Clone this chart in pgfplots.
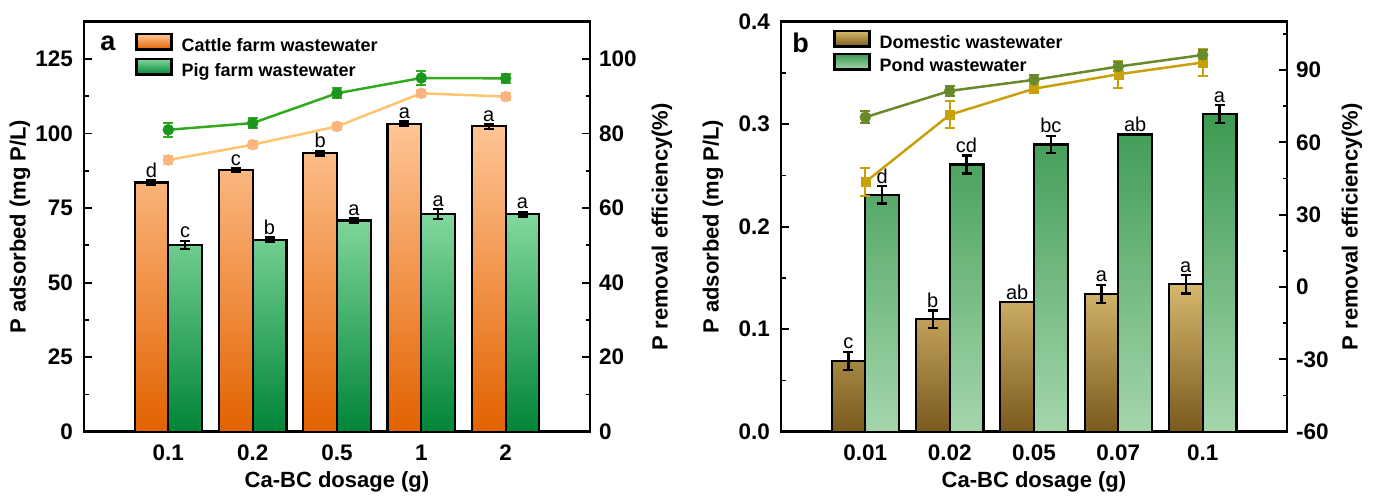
\documentclass[border=0pt]{standalone}
\usepackage{pgfplots}
\pgfplotsset{compat=1.18}
\usepackage{pgfplotstable}
\usepackage{fontspec}
\setmainfont{Liberation Sans}

\definecolor{cattleT}{RGB}{255,198,150}
\definecolor{cattleB}{RGB}{226,98,0}
\definecolor{pigT}{RGB}{130,216,158}
\definecolor{pigB}{RGB}{0,133,55}
\definecolor{domT}{RGB}{214,183,108}
\definecolor{domB}{RGB}{122,90,30}
\definecolor{pondT}{RGB}{60,154,82}
\definecolor{pondB}{RGB}{165,214,172}
\definecolor{orLine}{RGB}{255,196,110}
\definecolor{orMark}{RGB}{250,180,125}
\definecolor{grLine}{RGB}{50,170,30}
\definecolor{grMark}{RGB}{30,150,30}
\definecolor{goldLine}{RGB}{200,160,10}
\definecolor{oliveLine}{RGB}{105,138,40}

\pgfplotstableread{
x c ce p pe cr cre pr pre cl pl
0 83.6 0.8 62.7 1.3 72.9 1.0 81.0 1.9 d c
1 87.7 0.7 64.3 0.8 77.0 1.0 82.8 1.4 c b
2 93.4 0.8 70.8 0.8 81.9 1.0 90.8 1.4 b a
3 103.2 0.8 73.0 1.6 90.8 1.0 94.9 2.0 a a
4 102.4 0.8 73.0 0.8 89.9 1.0 94.8 1.3 a a
}\dataA

\pgfplotstableread{
x d de q qe dr dre qr qre dl ql
0 0.0691 0.009 0.2311 0.0085 43.5 5.8 70.4 2.4 c d
1 0.1097 0.0086 0.2607 0.0088 71.4 5.6 81.3 2.0 b cd
2 0.1266 0 0.2801 0.0085 82.2 1.7 85.9 2.0 ab bc
3 0.1347 0.0088 0.2899 0 88.2 5.5 91.4 2.0 a ab
4 0.1438 0.009 0.3100 0.0085 93.1 5.6 96.2 2.0 a a
}\dataB

\newcommand{\labfont}{\fontsize{22}{24}\selectfont\bfseries}

\pgfplotsset{
  base/.style={
    scale only axis, width=506pt, height=410pt,
    xmin=-1, xmax=5, xtick={0,1,2,3,4},
    xtick pos=bottom,
    major x tick style=transparent,
    tick align=inside,
    major tick length=8pt, minor tick length=4.5pt,
    tick style={black, line width=1.8pt},
    axis line style={black, line width=2.6pt},
    ticklabel style={font=\fontsize{22.5}{24}\selectfont\bfseries},
    xticklabel style={inner sep=0pt, yshift=-13pt},
    every axis x label/.style={at={([yshift=-50pt]rel axis cs:0.5,0)}, anchor=center, font=\labfont},
    clip=false,
  },
  barax/.style={
    base, ytick pos=left,
    yticklabel style={inner sep=0pt, xshift=-11pt},
    legend cell align=left,
    legend image code/.code={\draw[##1, line width=2.4pt] (0pt,-2.5pt) rectangle (35pt,13pt);},
    legend style={draw=none, fill=none, inner sep=0pt, column sep=8pt,
      font=\fontsize{18}{20}\selectfont\bfseries,
      nodes={inner sep=1pt, text height=13pt, text depth=3.5pt},
      at={(rel axis cs:0,1)}, anchor=north west},
  },
  linax/.style={
    base, axis x line=none, axis y line*=right,
    yticklabel style={inner sep=0pt, xshift=9pt},
  },
  bars/.style={ybar, bar width=0.4, bar shift=0pt, draw=black, line width=2.2pt,
    error bars/y dir=both, error bars/y explicit,
    error bars/error bar style={line width=2.2pt, black},
    error bars/error mark options={rotate=90, mark size=5pt, line width=2.2pt, black}},
  lets/.style={draw=none, mark=none, forget plot, nodes near coords,
    point meta=explicit symbolic,
    nodes near coords style={anchor=south, inner sep=2.5pt, text=black,
      font=\fontsize{20}{21}\selectfont}},
  lin/.style={color=#1, line width=2.5pt,
    error bars/y dir=both, error bars/y explicit,
    error bars/error bar style={line width=2pt, #1},
    error bars/error mark options={rotate=90, mark size=5pt, line width=2pt, #1}},
}

\begin{document}
\begin{tikzpicture}
\useasboundingbox (0,0) rectangle (1374pt,498pt);

% ---------------- panel a ----------------
\begin{axis}[barax, at={(84pt,66.3pt)}, anchor=south west,
  ymin=0, ymax=137.5,
  ytick={0,25,50,75,100,125}, yticklabels={0,25,50,75,100,125},
  minor ytick={12.5,37.5,62.5,87.5,112.5},
  xticklabels={0.1,0.2,0.5,1,2},
  xlabel={Ca-BC dosage (g)},
  ylabel={P adsorbed (mg P/L)},
  every axis y label/.style={at={([xshift=-64pt]rel axis cs:0,0.5)}, rotate=90, anchor=center, font=\labfont},
  legend style={xshift=51pt, yshift=-11pt, row sep=1.5pt},
]
\addplot[bars, top color=cattleT, bottom color=cattleB]
  table[x expr=\thisrow{x}-0.2, y=c, y error=ce] {\dataA};
\addlegendentry{Cattle farm wastewater}
\addplot[bars, top color=pigT, bottom color=pigB]
  table[x expr=\thisrow{x}+0.2, y=p, y error=pe] {\dataA};
\addlegendentry{Pig farm wastewater}
\addplot[lets] table[x expr=\thisrow{x}-0.2, y expr=\thisrow{c}+\thisrow{ce}, meta=cl] {\dataA};
\addplot[lets] table[x expr=\thisrow{x}+0.2, y expr=\thisrow{p}+\thisrow{pe}, meta=pl] {\dataA};
\node[font=\fontsize{27}{28}\selectfont\bfseries] at (rel axis cs:0.047,0.948) {a};
\end{axis}

\begin{axis}[linax, at={(84pt,66.3pt)}, anchor=south west,
  ymin=0, ymax=110,
  ytick={0,20,40,60,80,100}, yticklabels={0,20,40,60,80,100},
  minor ytick={10,30,50,70,90,110},
]
\addplot[lin=orLine, mark=*, mark size=5.5pt, mark options={fill=orMark, draw=orMark, line width=0.5pt}]
  table[x=x, y=cr, y error=cre] {\dataA};
\addplot[lin=grLine, mark=*, mark size=5.5pt, mark options={fill=grMark, draw=grMark, line width=0.5pt}]
  table[x=x, y=pr, y error=pre] {\dataA};
\node[rotate=90, anchor=center, font=\labfont]
  at ([xshift=72pt]rel axis cs:1,0.5) {P removal efficiency(\%)};
\end{axis}

% ---------------- panel b ----------------
\begin{axis}[barax, at={(781pt,66.3pt)}, anchor=south west,
  ymin=0, ymax=0.4,
  ytick={0,0.1,0.2,0.3,0.4}, yticklabels={0.0,0.1,0.2,0.3,0.4},
  minor ytick={0.05,0.15,0.25,0.35},
  xticklabels={0.01,0.02,0.05,0.07,0.1},
  xlabel={Ca-BC dosage (g)},
  ylabel={P adsorbed (mg P/L)},
  every axis y label/.style={at={([xshift=-68pt]rel axis cs:0,0.5)}, rotate=90, anchor=center, font=\labfont},
  legend style={xshift=52pt, yshift=-8pt, row sep=-0.5pt},
]
\addplot[bars, top color=domT, bottom color=domB]
  table[x expr=\thisrow{x}-0.2, y=d, y error=de] {\dataB};
\addlegendentry{Domestic wastewater}
\addplot[bars, top color=pondT, bottom color=pondB]
  table[x expr=\thisrow{x}+0.2, y=q, y error=qe] {\dataB};
\addlegendentry{Pond wastewater}
\addplot[lets] table[x expr=\thisrow{x}-0.2, y expr=\thisrow{d}+\thisrow{de}, meta=dl] {\dataB};
\addplot[lets] table[x expr=\thisrow{x}+0.2, y expr=\thisrow{q}+\thisrow{qe}, meta=ql] {\dataB};
\node[font=\fontsize{27}{28}\selectfont\bfseries] at (rel axis cs:0.039,0.948) {b};
\end{axis}

\begin{axis}[linax, at={(781pt,66.3pt)}, anchor=south west,
  ymin=-60, ymax=110,
  ytick={-60,-30,0,30,60,90}, yticklabels={-60,-30,0,30,60,90},
  minor ytick={-45,-15,15,45,75,105},
]
\addplot[lin=goldLine, mark=square*, mark size=4.5pt, mark options={fill=goldLine, draw=goldLine, line width=0.5pt}]
  table[x=x, y=dr, y error=dre] {\dataB};
\addplot[lin=oliveLine, mark=*, mark size=5.5pt, mark options={fill=oliveLine, draw=oliveLine, line width=0.5pt}]
  table[x=x, y=qr, y error=qre] {\dataB};
\node[rotate=90, anchor=center, font=\labfont]
  at ([xshift=65pt]rel axis cs:1,0.5) {P removal efficiency(\%)};
\end{axis}
\end{tikzpicture}
\end{document}
